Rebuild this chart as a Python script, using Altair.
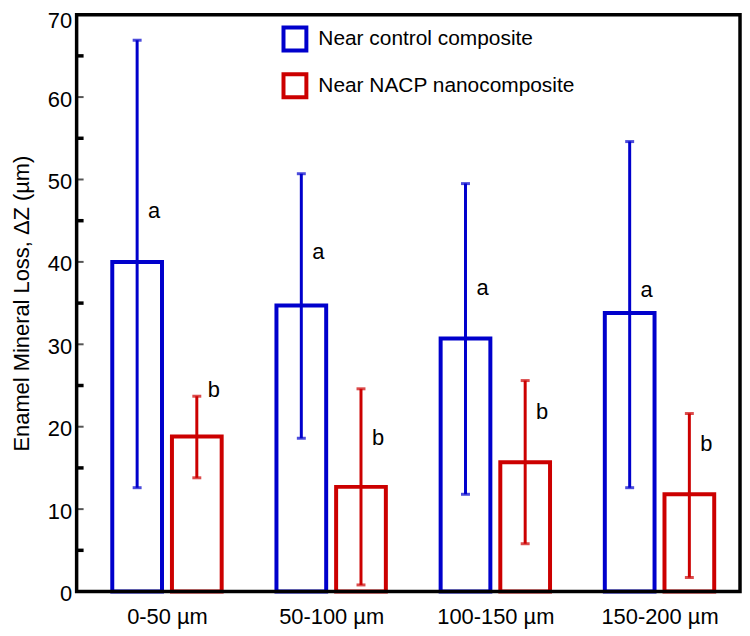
import json
import altair as alt
import pandas as pd

# ---- data ----
groups = ["0-50 µm", "50-100 µm", "100-150 µm", "150-200 µm"]
group_idx = [0, 1, 2, 3]
series = ["Near control composite", "Near NACP nanocomposite"]

control_mean = [40.0, 34.7, 30.7, 33.8]
control_low = [12.6, 18.6, 11.8, 12.6]
control_high = [66.9, 50.7, 49.5, 54.6]
control_letter = ["a", "a", "a", "a"]
control_letter_y = [45.3, 40.3, 36.0, 35.8]

nacp_mean = [18.8, 12.7, 15.7, 11.8]
nacp_low = [13.8, 0.8, 5.8, 1.7]
nacp_high = [23.7, 24.6, 25.6, 21.6]
nacp_letter = ["b", "b", "b", "b"]
nacp_letter_y = [23.6, 17.8, 20.9, 17.1]

y_tick_values = [0, 10, 20, 30, 40, 50, 60, 70]
major_ticks = [10, 20, 30, 40, 50, 60]
minor_ticks = [5, 15, 25, 35, 45, 55, 65]

BLUE = "#0000CC"
RED = "#CC0000"
FONT = "Liberation Sans"
YTITLE = "Enamel Mineral Loss, ΔZ (µm)"

rows = []
for s, means, lows, highs, lets, lys in [
    (series[0], control_mean, control_low, control_high, control_letter, control_letter_y),
    (series[1], nacp_mean, nacp_low, nacp_high, nacp_letter, nacp_letter_y),
]:
    for i, g in enumerate(groups):
        rows.append({"group": g, "idx": group_idx[i], "series": s, "mean": means[i],
                     "low": lows[i], "high": highs[i], "letter": lets[i], "ly": lys[i]})
df = pd.DataFrame(rows)

label_expr = json.dumps(groups) + "[datum.value]"
top_value = y_tick_values[-1]

xscale = alt.Scale(domain=[-0.52, 3.46], nice=False, zero=False)
xaxis = alt.Axis(values=group_idx, labelExpr=label_expr, title=None, ticks=False,
                 tickSize=0, domain=False, grid=False, labelFontSize=22, labelPadding=15,
                 labelFlush=False, labelOverlap=False, labelColor="#000", labelFont=FONT)
yscale = alt.Scale(domain=[0, 70], nice=False, zero=True)
yaxis = alt.Axis(values=y_tick_values, ticks=False, tickSize=0, domain=False, grid=False,
                 labelFontSize=22, labelPadding=5, labelColor="#000", labelFont=FONT,
                 labelBaseline={"condition": {"test": f"datum.value == {top_value}", "value": "top"},
                                "value": "middle"},
                 labelOffset={"condition": {"test": f"datum.value == {top_value}", "value": -4},
                              "value": 2},
                 titleFontSize=22, titleFontWeight="normal",
                 titleFont=FONT, titleColor="#000", titlePadding=14)


def X():
    return alt.X("idx:Q", scale=xscale, axis=xaxis)


def Y(field):
    return alt.Y(f"{field}:Q", scale=yscale, axis=yaxis, title=YTITLE)


stroke_enc = alt.Stroke(
    "series:N",
    scale=alt.Scale(domain=series, range=[BLUE, RED]),
    legend=alt.Legend(title=None, orient="none", legendX=206, legendY=11,
                      symbolType="square", symbolSize=529, symbolStrokeWidth=4,
                      symbolFillColor="white", labelFontSize=21, labelFont=FONT,
                      labelColor="#000", labelOffset=10, rowPadding=8, padding=0,
                      labelLimit=500),
)

base = alt.Chart(df)
layers = []
for s, off, col in [(series[0], -30, BLUE), (series[1], 30, RED)]:
    sub = base.transform_filter(alt.datum.series == s)
    layers.append(sub.mark_bar(size=50, fill="white", strokeWidth=4, xOffset=off)
                  .encode(x=X(), y=Y("mean"), stroke=stroke_enc))
for s, off, col in [(series[0], -30, BLUE), (series[1], 30, RED)]:
    sub = base.transform_filter(alt.datum.series == s)
    layers.append(sub.mark_rule(strokeWidth=3, xOffset=off, color=col)
                  .encode(x=X(), y=Y("low"), y2="high:Q"))
    layers.append(sub.transform_fold(["low", "high"], as_=["end", "val"])
                  .mark_tick(orient="horizontal", size=9, thickness=3, xOffset=off, color=col)
                  .encode(x=X(), y=Y("val")))
    layers.append(sub.mark_text(align="left", baseline="alphabetic", xOffset=off, dx=11,
                                fontSize=22, font=FONT, color="#000")
                  .encode(x=X(), y=Y("ly"), text="letter:N"))

tick_df = pd.DataFrame({"t": major_ticks + minor_ticks,
                        "kind": ["major"] * len(major_ticks) + ["minor"] * len(minor_ticks)})
tbase = alt.Chart(tick_df)
layers.append(tbase.transform_filter(alt.datum.kind == "major")
              .mark_rule(strokeWidth=2, color="#555")
              .encode(x=alt.value(1), x2=alt.value(7), y=Y("t")))
layers.append(tbase.transform_filter(alt.datum.kind == "minor")
              .mark_rule(strokeWidth=3.5, color="#000")
              .encode(x=alt.value(1), x2=alt.value(7), y=Y("t")))

frame = alt.Chart(pd.DataFrame({"f": [0]})).mark_rect(
    fill=None, stroke="#000", strokeWidth=3.5
).encode(x=alt.value(0), x2=alt.value("width"), y=alt.value(0), y2=alt.value("height"))
layers.append(frame)

chart = alt.layer(*layers).properties(
    width=667, height=580,
    padding={"left": 69, "top": 5, "right": 2, "bottom": 42},
    autosize=alt.AutoSizeParams(type="none"),
    background="white",
).configure_view(stroke=None).configure_text(font=FONT)

chart.save("out.html", embed_options={"renderer": "svg", "actions": False})
